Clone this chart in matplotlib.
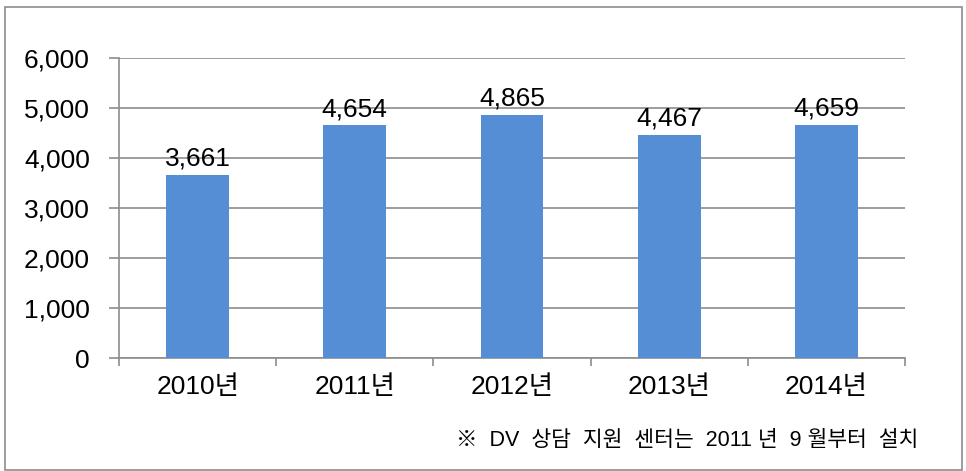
import matplotlib.pyplot as plt
from matplotlib.patches import Rectangle

plt.rcParams['font.family'] = ['Liberation Sans', 'Noto Sans CJK KR', 'DejaVu Sans']

years = ['2010년', '2011년', '2012년', '2013년', '2014년']
counts = [3661, 4654, 4865, 4467, 4659]
y_ticks = [0, 1000, 2000, 3000, 4000, 5000, 6000]
note = '※  DV  상담  지원  센터는  2011 년  9 월부터  설치'

W, H = 966, 471
fig = plt.figure(figsize=(W / 100, H / 100), dpi=100)
ax = fig.add_axes([119 / W, 1 - 358 / H, (905 - 119) / W, 300 / H])

grid_c = '#8c8c8c'
x = range(len(years))
ax.bar(x, counts, width=0.4, color='#558ed5', zorder=3)
for i, v in enumerate(counts):
    ax.annotate(f'{v:,}', (i, v), textcoords='offset points', xytext=(0, 3),
                ha='center', va='bottom', fontsize=19, zorder=4)

ax.set_xlim(-0.5, len(years) - 0.5)
ax.set_ylim(0, 6000)
ax.set_yticks(y_ticks)
ax.set_yticklabels([f'{t:,}' for t in y_ticks], fontsize=19)
ax.yaxis.grid(True, color=grid_c, linewidth=1.2, zorder=0)

ax.set_xticks([i - 0.5 for i in range(len(years) + 1)])
ax.set_xticklabels([])
ax.set_xticks(list(x), minor=True)
ax.set_xticklabels(years, minor=True, fontsize=19)
ax.tick_params(axis='x', which='minor', length=0, pad=12)
ax.tick_params(axis='x', which='major', length=6, color=grid_c, width=1.2)
ax.tick_params(axis='y', length=7, color=grid_c, width=1.2, pad=14)

for s in ['top', 'right']:
    ax.spines[s].set_visible(False)
for s in ['left', 'bottom']:
    ax.spines[s].set_color(grid_c)
    ax.spines[s].set_linewidth(1.2)

fig.text(918 / W, 1 - 441 / H, note, ha='right', va='center', fontsize=15.5)

fig.patches.append(Rectangle((5 / W, 1 / H), 957 / W, 463 / H, transform=fig.transFigure,
                             fill=False, edgecolor='#8c8c8c', linewidth=1.2))

fig.savefig('out.png', dpi=100)
